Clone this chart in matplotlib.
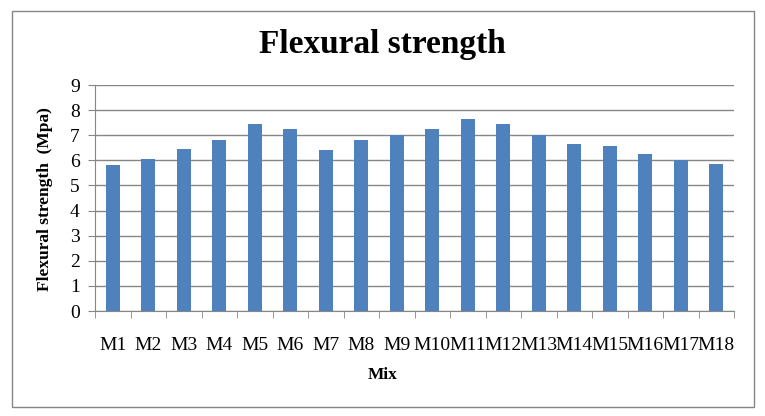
import matplotlib.pyplot as plt
from matplotlib.patches import Rectangle
import numpy as np

mixes = ["M%d" % i for i in range(1, 19)]
strength = [5.8, 6.05, 6.45, 6.8, 7.45, 7.25, 6.4, 6.8, 7.0,
            7.25, 7.65, 7.45, 7.0, 6.65, 6.57, 6.25, 6.0, 5.87]
yticks = list(range(0, 10))

W, H = 765, 416
fig = plt.figure(figsize=(W / 100, H / 100), dpi=100)
fig.patch.set_facecolor("white")

# chart frame
fig.patches.append(Rectangle((12 / W, 1 - 407 / H), (754 - 12) / W, (407 - 11) / H,
                             transform=fig.transFigure, fill=False,
                             edgecolor="#868686", linewidth=1.0))

ax = fig.add_axes([95 / W, 1 - 311 / H, (734 - 95) / W, (311 - 85) / H])
x = np.arange(len(mixes))
ax.bar(x, strength, width=0.4, color="#4F81BD", zorder=3)

ax.set_xlim(-0.5, len(mixes) - 0.5)
ax.set_ylim(0, 9)
ax.set_yticks(yticks)
ax.yaxis.grid(True, color="#868686", linewidth=1.0, zorder=0)

ax.set_xticks(x)
ax.set_xticklabels(mixes)
ax.set_xticks(np.arange(-0.5, len(mixes)), minor=True)
ax.tick_params(axis="x", which="major", length=0, pad=19)
ax.tick_params(axis="x", which="minor", length=5, color="#868686", direction="out")
ax.tick_params(axis="y", length=5, color="#868686", direction="out", pad=6)

for lbl in ax.get_xticklabels() + ax.get_yticklabels():
    lbl.set_fontfamily("Liberation Serif")
    lbl.set_fontsize(14)

for s in ["top", "right"]:
    ax.spines[s].set_visible(False)
ax.spines["left"].set_color("#868686")
ax.spines["bottom"].set_color("#868686")

fig.text(0.5, 1 - 45 / H, "Flexural strength", ha="center", va="center",
         fontfamily="Liberation Serif", fontweight="bold", fontsize=24)
fig.text(0.5, 1 - 375 / H, "Mix", ha="center", va="center",
         fontfamily="Liberation Serif", fontweight="bold", fontsize=12.5)
fig.text(45 / W, 1 - 199 / H, "Flexural strength  (Mpa)", ha="center", va="center",
         rotation=90, fontfamily="Liberation Serif", fontweight="bold", fontsize=12.5)

fig.savefig("out.png", dpi=100)
